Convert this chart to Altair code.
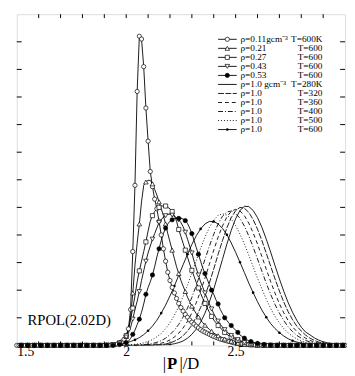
import altair as alt
import pandas as pd

# ---------------- data ----------------
X_MIN, X_MAX = 1.5, 3.0

# marker series: values every 0.01 starting at the given start; 0 elsewhere (baseline)
rho011_start = 1.90
rho011 = [0.00, 0.00, 0.01, 0.01, 0.02, 0.03, 0.05, 0.08, 0.13, 0.22,
          0.35, 0.60, 1.30, 3.40, 5.80, 9.20, 11.20, 11.10, 10.10, 8.60,
          7.40, 6.30, 5.75, 5.30, 4.95, 4.50, 4.00, 3.50, 3.05, 2.65,
          2.35, 2.10, 1.90, 1.70, 1.52, 1.37, 1.24, 1.12, 1.02, 0.92,
          0.84, 0.77, 0.70, 0.63, 0.57, 0.52, 0.48, 0.44, 0.40, 0.36,
          0.32, 0.29, 0.26, 0.23, 0.21, 0.18, 0.16, 0.14, 0.12, 0.10,
          0.08, 0.07, 0.06, 0.05, 0.04, 0.03, 0.03, 0.02, 0.02, 0.01,
          0.01, 0.01]
rho021_start = 1.90
rho021 = [0.00, 0.01, 0.01, 0.02, 0.03, 0.05, 0.07, 0.10, 0.15, 0.22,
          0.32, 0.55, 1.00, 1.90, 2.90, 3.70, 4.40, 5.20, 5.80, 5.92,
          5.98, 5.98, 5.85, 5.65, 5.45, 5.20, 4.95, 4.70, 4.40, 4.05,
          3.75, 3.45, 3.15, 2.85, 2.60, 2.35, 2.15, 1.95, 1.75, 1.58,
          1.42, 1.28, 1.15, 1.03, 0.92, 0.82, 0.73, 0.65, 0.58, 0.51,
          0.45, 0.40, 0.35, 0.31, 0.27, 0.23, 0.20, 0.17, 0.15, 0.12,
          0.10, 0.08, 0.07, 0.05, 0.04, 0.03, 0.03, 0.02, 0.02, 0.01,
          0.01, 0.01]
rho027_start = 1.90
rho027 = [0.00, 0.01, 0.01, 0.02, 0.03, 0.04, 0.06, 0.09, 0.14, 0.22,
          0.35, 0.60, 0.95, 1.35, 1.80, 2.30, 2.70, 3.05, 3.40, 3.75,
          4.15, 4.50, 4.70, 4.85, 4.95, 5.00, 5.05, 5.05, 5.05, 5.00,
          4.95, 4.85, 4.70, 4.50, 4.20, 3.95, 3.70, 3.45, 3.20, 2.95,
          2.72, 2.50, 2.28, 2.08, 1.88, 1.70, 1.52, 1.36, 1.20, 1.05,
          0.92, 0.82, 0.72, 0.64, 0.55, 0.47, 0.40, 0.35, 0.30, 0.25,
          0.21, 0.18, 0.15, 0.12, 0.10, 0.08, 0.06, 0.05, 0.04, 0.03,
          0.02, 0.02, 0.01, 0.01]
rho043_start = 1.90
rho043 = [0.00, 0.00, 0.01, 0.01, 0.02, 0.03, 0.05, 0.08, 0.12, 0.19,
          0.30, 0.45, 0.65, 0.95, 1.30, 1.60, 1.95, 2.35, 2.70, 3.05,
          3.35, 3.60, 3.85, 4.05, 4.25, 4.45, 4.55, 4.65, 4.70, 4.75,
          4.75, 4.72, 4.68, 4.62, 4.55, 4.45, 4.30, 4.10, 3.85, 3.60,
          3.35, 3.05, 2.80, 2.55, 2.30, 2.10, 1.90, 1.70, 1.50, 1.32,
          1.15, 1.00, 0.88, 0.76, 0.66, 0.57, 0.49, 0.42, 0.36, 0.30,
          0.25, 0.21, 0.17, 0.14, 0.11, 0.09, 0.07, 0.05, 0.04, 0.03,
          0.02, 0.02, 0.01, 0.01]
rho053_start = 1.90
rho053 = [0.00, 0.00, 0.00, 0.00, 0.00, 0.01, 0.02, 0.03, 0.05, 0.07,
          0.10, 0.15, 0.25, 0.40, 0.55, 0.75, 0.95, 1.20, 1.50, 1.85,
          2.10, 2.30, 2.55, 2.85, 3.20, 3.50, 3.80, 4.05, 4.25, 4.40,
          4.50, 4.55, 4.60, 4.60, 4.60, 4.60, 4.58, 4.52, 4.42, 4.25,
          4.05, 3.80, 3.55, 3.30, 3.05, 2.80, 2.60, 2.40, 2.20, 2.00,
          1.85, 1.65, 1.50, 1.30, 1.15, 1.00, 0.90, 0.80, 0.72, 0.63,
          0.55, 0.47, 0.38, 0.32, 0.26, 0.21, 0.17, 0.14, 0.11, 0.09,
          0.07, 0.05, 0.04, 0.03, 0.02, 0.02, 0.01, 0.01]

# rho = 1.0 curves: values every 0.02 starting at the given start
T280_start = 2.00
T280 = [0, 0, 0, 0, 0, 0, 0, 0.01, 0.01, 0.02,
        0.03, 0.06, 0.10, 0.16, 0.26, 0.40, 0.59, 0.84, 1.17, 1.57,
        2.04, 2.57, 3.12, 3.67, 4.17, 4.59, 4.89, 5.04, 5.03, 4.89,
        4.63, 4.28, 3.85, 3.38, 2.89, 2.41, 1.96, 1.55, 1.20, 0.90,
        0.66, 0.48, 0.38, 0.27, 0.19, 0.13, 0.09, 0.06, 0.04, 0.02, 0.01]
T320_start = 2.00
T320 = [0, 0, 0, 0, 0, 0.01, 0.01, 0.02, 0.03, 0.05,
        0.09, 0.15, 0.23, 0.35, 0.52, 0.73, 1.03, 1.37, 1.79, 2.26,
        2.77, 3.30, 3.80, 4.26, 4.63, 4.88, 5.00, 4.97, 4.82, 4.56,
        4.21, 3.80, 3.34, 2.87, 2.41, 1.97, 1.57, 1.22, 0.93, 0.69,
        0.52, 0.37, 0.26, 0.18, 0.12, 0.08, 0.05, 0.03, 0.02, 0.01, 0.01]
T360_start = 2.00
T360 = [0, 0, 0, 0.01, 0.01, 0.02, 0.03, 0.05, 0.08, 0.12,
        0.20, 0.30, 0.44, 0.63, 0.87, 1.17, 1.54, 1.97, 2.44, 2.94,
        3.45, 3.92, 4.33, 4.65, 4.86, 4.93, 4.87, 4.70, 4.43, 4.08,
        3.67, 3.22, 2.76, 2.31, 1.89, 1.51, 1.18, 0.90, 0.67, 0.50,
        0.36, 0.26, 0.18, 0.12, 0.08, 0.05, 0.03, 0.02, 0.01, 0.01, 0]
T400_start = 2.00
T400 = [0, 0.01, 0.01, 0.02, 0.03, 0.04, 0.07, 0.11, 0.17, 0.26,
        0.39, 0.55, 0.76, 1.03, 1.35, 1.74, 2.17, 2.64, 3.12, 3.59,
        4.03, 4.40, 4.68, 4.83, 4.87, 4.79, 4.60, 4.32, 3.97, 3.56,
        3.13, 2.69, 2.25, 1.85, 1.48, 1.17, 0.90, 0.67, 0.50, 0.36,
        0.26, 0.18, 0.12, 0.08, 0.05, 0.03, 0.02, 0.01, 0.01, 0, 0]
T500_start = 2.00
T500 = [0.01, 0.02, 0.04, 0.06, 0.09, 0.14, 0.21, 0.31, 0.43, 0.61,
        0.82, 1.09, 1.41, 1.77, 2.18, 2.62, 3.07, 3.52, 3.92, 4.27,
        4.54, 4.71, 4.77, 4.72, 4.58, 4.34, 4.03, 3.67, 3.27, 2.85,
        2.43, 2.05, 1.67, 1.34, 1.05, 0.81, 0.61, 0.45, 0.33, 0.23,
        0.16, 0.11, 0.07, 0.05, 0.03, 0.02, 0.01, 0.01, 0, 0, 0]
T600_start = 1.90
T600 = [0.01, 0.01, 0.02, 0.04, 0.06,
        0.09, 0.14, 0.20, 0.28, 0.39, 0.53, 0.70, 0.91, 1.17, 1.46,
        1.79, 2.15, 2.54, 2.92, 3.30, 3.66, 3.97, 4.22, 4.40, 4.49,
        4.49, 4.40, 4.24, 4.01, 3.71, 3.37, 3.01, 2.64, 2.26, 1.91,
        1.58, 1.28, 1.02, 0.79, 0.61, 0.46, 0.34, 0.24, 0.17, 0.12,
        0.08, 0.05, 0.04, 0.02, 0.01, 0.01, 0, 0, 0, 0, 0]

legend_rho = ["ρ=0.11gcm⁻³", "ρ=0.21", "ρ=0.27", "ρ=0.43", "ρ=0.53",
              "ρ=1.0 gcm⁻³", "ρ=1.0", "ρ=1.0", "ρ=1.0", "ρ=1.0", "ρ=1.0"]
legend_T = ["T=600K", "T=600", "T=600", "T=600", "T=600",
            "T=280K", "T=320", "T=360", "T=400", "T=500", "T=600"]

x_tick_values = [1.6, 1.7, 1.8, 1.9, 2.0, 2.1, 2.2, 2.3, 2.4, 2.5, 2.6, 2.7, 2.8, 2.9]
x_label_values = [1.5, 2.0, 2.5]
y_tick_values = [1, 2, 3, 4, 5, 6, 7, 8, 9, 10, 11]
x_title_parts = ["|", "P", "|/D"]

# ---------------- helpers ----------------
W, H = 336, 339
FONT = "Liberation Serif"


def on_grid(start, step, vals):
    n = int(round((X_MAX - X_MIN) / step)) + 1
    xs = [round(X_MIN + i * step, 4) for i in range(n)]
    ys = [0.0] * n
    i0 = int(round((start - X_MIN) / step))
    for k, v in enumerate(vals):
        if 0 <= i0 + k < n:
            ys[i0 + k] = v
    return pd.DataFrame({"x": xs, "y": ys})


XS = alt.Scale(domain=[X_MIN, X_MAX], nice=False, zero=False)
YS = alt.Scale(domain=[0, 12], nice=False)
XAX = alt.Axis(values=x_label_values, labelExpr="datum.value == 2 ? '2' : format(datum.value, '.1f')",
               tickSize=0, grid=False, domain=False, labelFont=FONT, labelFontSize=14,
               labelColor="black", labelPadding=-1, title="")


def X(field="x"):
    return alt.X(f"{field}:Q", scale=XS, axis=XAX)


def Y(field="y"):
    return alt.Y(f"{field}:Q", scale=YS, axis=None)


layers = []

# ---- rho = 1.0 curves (lines) ----
line_specs = [
    (T280_start, T280, []),
    (T320_start, T320, [6, 1.5]),
    (T360_start, T360, [4, 3]),
    (T400_start, T400, [5, 2, 1, 2]),
    (T500_start, T500, [1, 2]),
    (T600_start, T600, []),
]
for start, vals, dash in line_specs:
    df = on_grid(start, 0.02, vals)
    kw = dict(color="black", strokeWidth=0.9, clip=True)
    if dash:
        kw["strokeDash"] = dash
    layers.append(alt.Chart(df).mark_line(**kw).encode(x=X(), y=Y()))

# dots on T=600 curve
df600 = on_grid(T600_start, 0.02, T600)
df600 = df600.iloc[::3]
layers.append(alt.Chart(df600).mark_circle(color="black", size=7, opacity=1).encode(x=X(), y=Y()))

# ---- marker series ----  (start, values, shape, fill, marker every n-th sample)
marker_specs = [
    (rho011_start, rho011, "circle", "white", 1),
    (rho021_start, rho021, "triangle-up", "white", 3),
    (rho027_start, rho027, "square", "white", 3),
    (rho043_start, rho043, "triangle-down", "white", 3),
    (rho053_start, rho053, "circle", "black", 3),
]
MSIZE = {"circle": 19, "square": 18, "triangle-up": 22, "triangle-down": 22}
mdfs = [on_grid(s, 0.01, v) for s, v, _, _, _ in marker_specs]
for df in mdfs:
    layers.append(alt.Chart(df).mark_line(color="black", strokeWidth=0.9).encode(x=X(), y=Y()))
for df, (_, _, shape, fill, every) in zip(mdfs, marker_specs):
    sub = df.iloc[2::every] if every > 1 else df
    layers.append(alt.Chart(sub).mark_point(shape=shape, filled=True, fill=fill, stroke="black",
                                            strokeWidth=0.7, size=MSIZE[shape], opacity=1).encode(x=X(), y=Y()))

# ---- inward ticks ----
xt = pd.DataFrame({"x": x_tick_values})
yt = pd.DataFrame({"y": y_tick_values})
layers.append(alt.Chart(xt).mark_rule(color="black", strokeWidth=1).encode(
    x=X(), y=alt.value(H), y2=alt.value(H - 4)))
layers.append(alt.Chart(xt).mark_rule(color="black", strokeWidth=1).encode(
    x=X(), y=alt.value(0), y2=alt.value(4)))
layers.append(alt.Chart(yt).mark_rule(color="black", strokeWidth=1).encode(
    y=Y(), x=alt.value(0), x2=alt.value(5)))
layers.append(alt.Chart(yt).mark_rule(color="black", strokeWidth=1).encode(
    y=Y(), x=alt.value(W), x2=alt.value(W - 5)))

# ---- legend ----
LEG_Y0, LEG_DY = 11.09, 0.327
LX1, LX2, LXM, LXT, LXR = 2.42, 2.505, 2.462, 2.522, 2.897
leg_dashes = [[], [], [], [], [], [], [6, 1.5], [4, 3], [5, 2, 1, 2], [1, 2], []]
for i, dash in enumerate(leg_dashes):
    yy = LEG_Y0 - i * LEG_DY
    df = pd.DataFrame({"x": [LX1, LX2], "y": [yy, yy]})
    kw = dict(color="black", strokeWidth=0.9)
    if dash:
        kw["strokeDash"] = dash
    layers.append(alt.Chart(df).mark_line(**kw).encode(x=X(), y=Y()))
for i, (_, _, shape, fill, _) in enumerate(marker_specs):
    yy = LEG_Y0 - i * LEG_DY
    df = pd.DataFrame({"x": [LXM], "y": [yy]})
    layers.append(alt.Chart(df).mark_point(shape=shape, filled=True, fill=fill, stroke="black",
                                           strokeWidth=0.7, size=MSIZE[shape], opacity=1).encode(x=X(), y=Y()))
layers.append(alt.Chart(pd.DataFrame({"x": [LXM], "y": [LEG_Y0 - 10 * LEG_DY]})).mark_circle(
    color="black", size=7, opacity=1).encode(x=X(), y=Y()))

leg_df = pd.DataFrame({
    "x": [LXT] * len(legend_rho),
    "xr": [LXR] * len(legend_T),
    "y": [LEG_Y0 - i * LEG_DY for i in range(len(legend_rho))],
    "rho": legend_rho,
    "T": legend_T,
})
layers.append(alt.Chart(leg_df).mark_text(align="left", baseline="middle", font=FONT, fontSize=9.5,
                                          color="black").encode(x=X(), y=Y(), text="rho:N"))
layers.append(alt.Chart(leg_df).mark_text(align="right", baseline="middle", font=FONT, fontSize=9.5,
                                          color="black").encode(x=X("xr"), y=Y(), text="T:N"))

# ---- panel label ----
layers.append(alt.Chart(pd.DataFrame({"x": [1.549], "y": [0.92], "t": ["RPOL(2.02D)"]})).mark_text(
    align="left", baseline="middle", font=FONT, fontSize=15, color="black").encode(
    x=X(), y=Y(), text="t:N"))

# ---- x-axis title  |P|/D  with bold P ----
TY = H + 24
layers.append(alt.Chart(pd.DataFrame({"x": [2.182], "t": [x_title_parts[0]]})).mark_text(
    align="right", baseline="alphabetic", font=FONT, fontSize=17, color="black").encode(
    x=X(), y=alt.value(TY), text="t:N"))
layers.append(alt.Chart(pd.DataFrame({"x": [2.21], "t": [x_title_parts[1]]})).mark_text(
    align="center", baseline="alphabetic", font=FONT, fontSize=17, fontWeight="bold", color="black").encode(
    x=X(), y=alt.value(TY), text="t:N"))
layers.append(alt.Chart(pd.DataFrame({"x": [2.243], "t": [x_title_parts[2]]})).mark_text(
    align="left", baseline="alphabetic", font=FONT, fontSize=17, color="black").encode(
    x=X(), y=alt.value(TY), text="t:N"))

chart = alt.layer(*layers).properties(
    width=W, height=H,
    autosize=alt.AutoSizeParams(type="none"),
    padding={"left": 9, "top": 2, "right": 2, "bottom": 27},
).configure_view(stroke="black", strokeWidth=1.2).configure(background="white")

chart.save("out.html", embed_options={"renderer": "svg", "actions": False})
